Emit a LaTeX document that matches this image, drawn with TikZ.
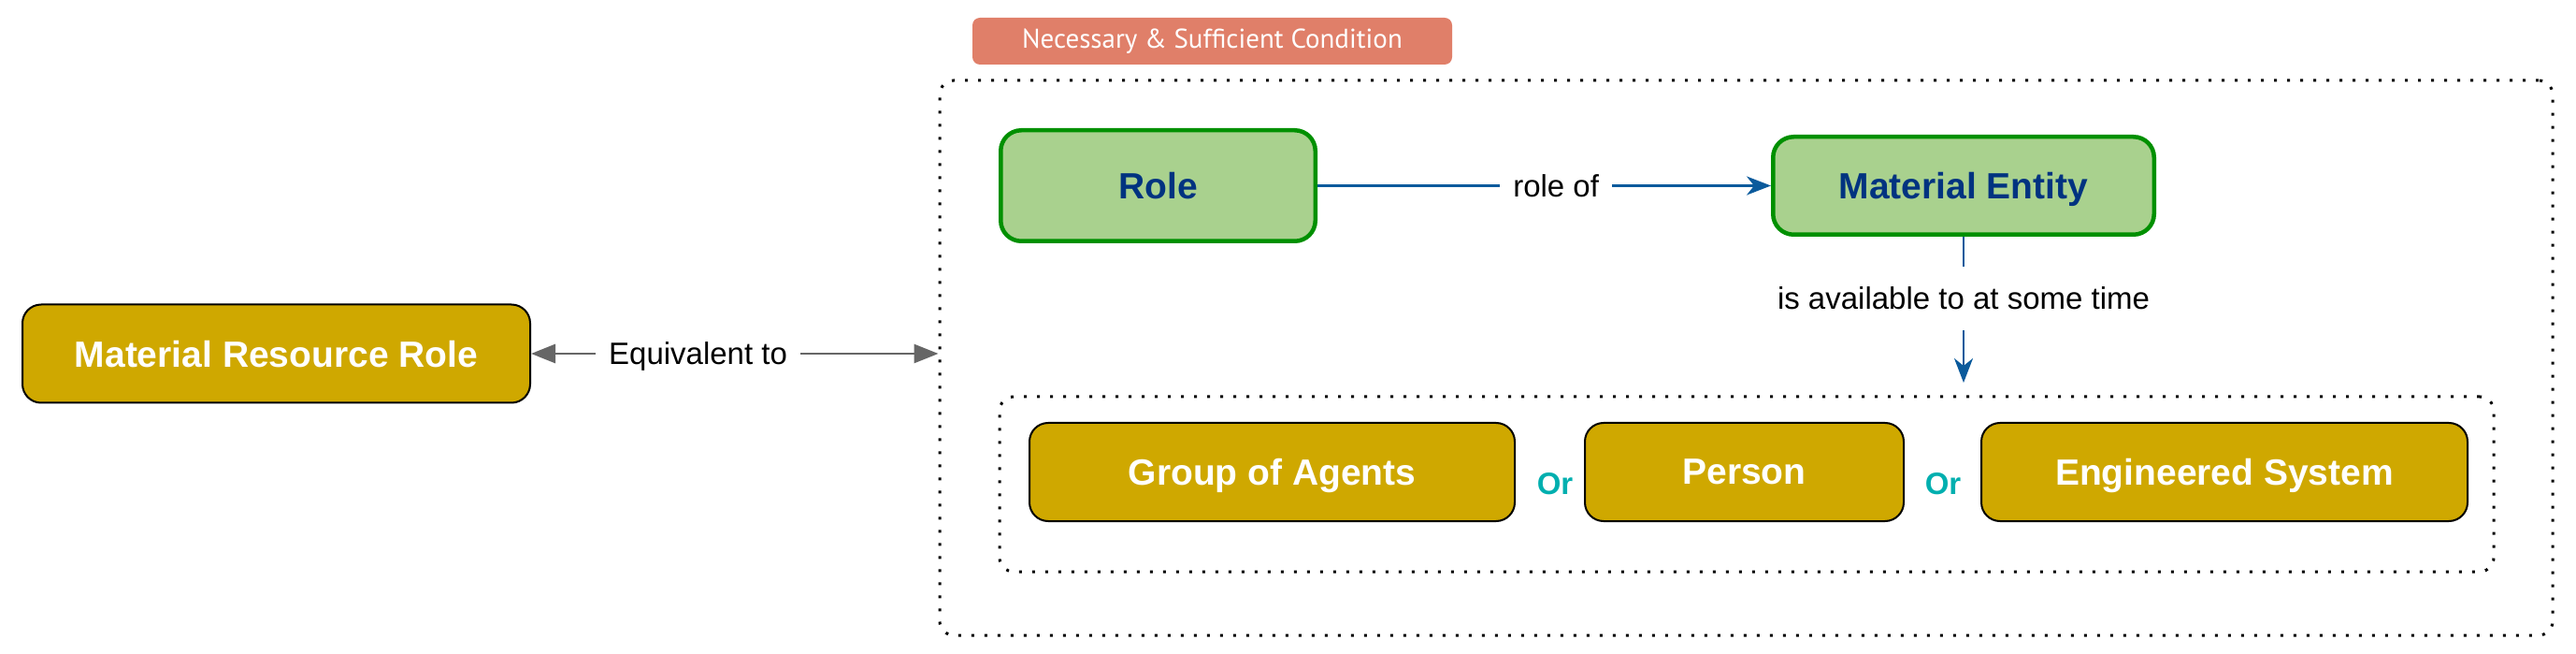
\documentclass[tikz,border=0pt]{standalone}
\usepackage{fontspec}
\setmainfont{Liberation Sans}
\setsansfont{Liberation Sans}
\newfontfamily\bannerfont{PT Sans}
\usepackage{tikz}
\usetikzlibrary{positioning,arrows.meta}
\definecolor{gold}{HTML}{CFA800}
\definecolor{rolegreen}{HTML}{A9D18E}
\definecolor{roleborder}{HTML}{009000}
\definecolor{rolename}{HTML}{003380}
\definecolor{linkblue}{HTML}{0A5A9C}
\definecolor{equivgray}{HTML}{666666}
\definecolor{ortext}{HTML}{00AFAF}
\definecolor{banner}{HTML}{E07F69}

\begin{document}
\begin{tikzpicture}[font=\sffamily]
    \tikzstyle{class}=[draw, line width=1pt, fill=gold, text=white, font=\bfseries\fontsize{19.5pt}{23pt}\selectfont, text depth=0pt, rounded corners=10pt, minimum height=52.5pt, on grid]
    \tikzstyle{entity}=[draw=roleborder, line width=2.25pt, fill=rolegreen, text=rolename, font=\bfseries\fontsize{19.5pt}{23pt}\selectfont, text depth=0pt, rounded corners=11pt, on grid]
    \tikzstyle{edgelabel}=[fill=white, text=black, font=\fontsize{16.5pt}{19pt}\selectfont, text depth=0pt, inner xsep=7pt, inner ysep=11pt]
    \tikzstyle{orlabel}=[text=ortext, font=\bfseries\fontsize{16.5pt}{19pt}\selectfont, on grid]
    \tikzstyle{group}=[draw, line width=1.5pt, dash pattern=on 1.5pt off 5.5pt, rounded corners=7.5pt, on grid]
    \tikzstyle{heading}=[fill=banner, text=white, font=\bannerfont\fontsize{14.5pt}{17pt}\selectfont, rounded corners=4pt, minimum width=256.5pt, minimum height=25pt, on grid]

    \useasboundingbox (0,0) rectangle (1377.5pt,-349.5pt);

    \node[class, minimum width=271.5pt] (mrr) at (147.75pt,-189pt) {Material Resource Role};

    \node[group, minimum width=862.5pt, minimum height=296.5pt, below right=2.25pt and 786pt of mrr] (condition) {};
    \node[group, minimum width=799pt, minimum height=93.5pt, below right=69.75pt and 786.25pt of mrr] (alternatives) {};

    \node[entity, minimum width=168.25pt, minimum height=59.25pt, above right=89.75pt and 471.5pt of mrr] (role) {Role};
    \node[entity, minimum width=203.75pt, minimum height=52.25pt, right=430.75pt of role] (materialentity) {Material Entity};
    \node[heading, above right=77.25pt and 29pt of role] (necsuff) {Necessary \& Sufficient Condition};

    \node[class, minimum width=259.5pt, below right=63.25pt and 532.5pt of mrr] (groupofagents) {Group of Agents};
    \node[class, minimum width=170.5pt, right=252.5pt of groupofagents] (person) {Person};
    \node[class, minimum width=260pt, right=256.75pt of person] (engsystem) {Engineered System};
    \node[orlabel, below right=6.25pt and 151.25pt of groupofagents] (or1) {Or};
    \node[orlabel, below right=6.25pt and 106.25pt of person] (or2) {Or};

    \coordinate[below=78pt of materialentity.south] (availend);

    \draw[line width=1.4pt, equivgray, {Triangle[length=13pt,width=10pt]}-{Triangle[length=13pt,width=10pt]}] (mrr) -- node[edgelabel, pos=0.41] {Equivalent to} (mrr -| condition.west);
    \draw[line width=1.2pt, linkblue, -{Stealth[length=13pt,width=10pt,inset=4pt]}] (role) -- node[edgelabel, pos=0.526] {role of} (materialentity);
    \draw[line width=1.2pt, linkblue, -{Stealth[length=13pt,width=10pt,inset=4pt]}] (materialentity) -- node[edgelabel, pos=0.423] {is available to at some time} (availend);
\end{tikzpicture}
\end{document}
